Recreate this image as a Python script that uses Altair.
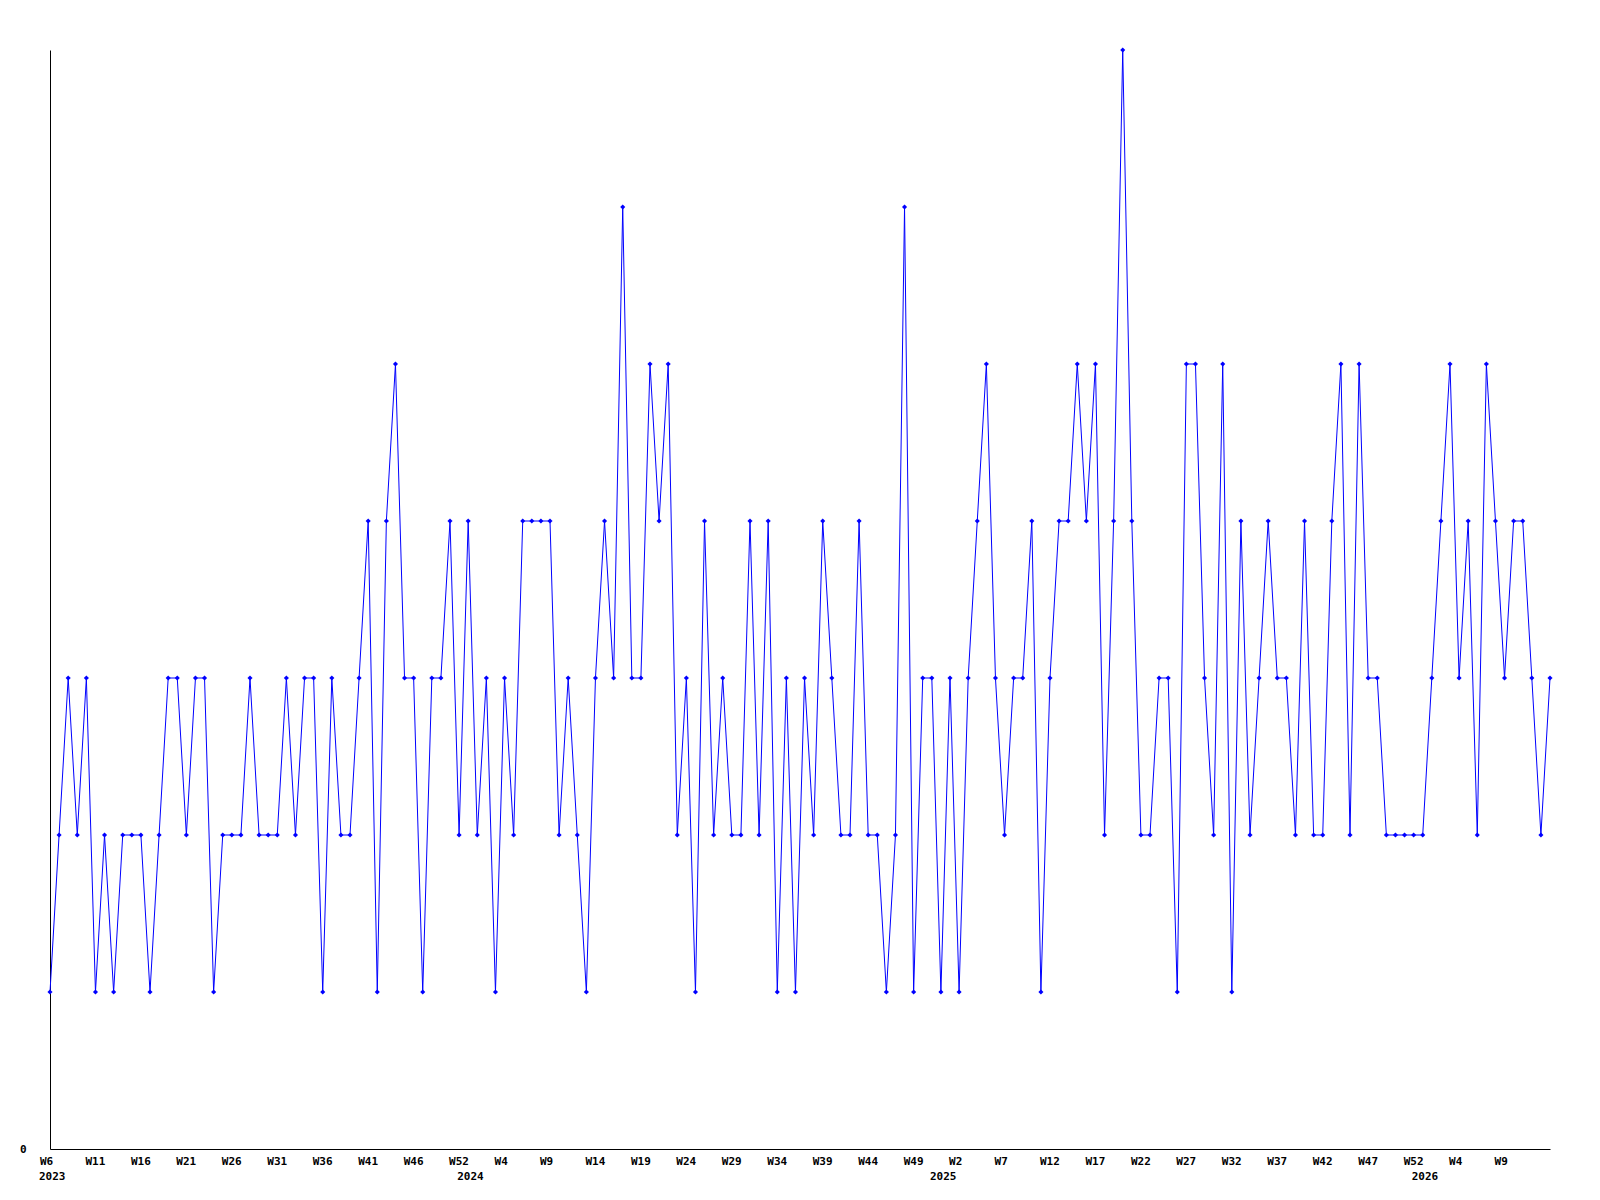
import altair as alt
import pandas as pd

# weekly counts, 2023 W6 .. 2026 W15
counts = [
    1, 2, 3, 2, 3, 1, 2, 1, 2, 2,
    2, 1, 2, 3, 3, 2, 3, 3, 1, 2,
    2, 2, 3, 2, 2, 2, 3, 2, 3, 3,
    1, 3, 2, 2, 3, 4, 1, 4, 5, 3,
    3, 1, 3, 3, 4, 2, 4, 2, 3, 1,
    3, 2, 4, 4, 4, 4, 2, 3, 2, 1,
    3, 4, 3, 6, 3, 3, 5, 4, 5, 2,
    3, 1, 4, 2, 3, 2, 2, 4, 2, 4,
    1, 3, 1, 3, 2, 4, 3, 2, 2, 4,
    2, 2, 1, 2, 6, 1, 3, 3, 1, 3,
    1, 3, 4, 5, 3, 2, 3, 3, 4, 1,
    3, 4, 4, 5, 4, 5, 2, 4, 7, 4,
    2, 2, 3, 3, 1, 5, 5, 3, 2, 5,
    1, 4, 2, 3, 4, 3, 3, 2, 4, 2,
    2, 4, 5, 2, 5, 3, 3, 2, 2, 2,
    2, 2, 3, 4, 5, 3, 4, 2, 5, 4,
    3, 4, 4, 3, 2, 3,
]

tick_labels = [
    "W6", "W11", "W16", "W21", "W26", "W31", "W36", "W41", "W46", "W52",
    "W4", "W9", "W14", "W19", "W24", "W29", "W34", "W39", "W44", "W49",
    "W2", "W7", "W12", "W17", "W22", "W27", "W32", "W37", "W42", "W47",
    "W52", "W4", "W9",
]
tick_step = 5

years = ["2023", "2024", "2025", "2026"]
year_index = [0, 46, 98, 151]

FONT = "DejaVu Sans Mono"

df = pd.DataFrame({"idx": list(range(len(counts))), "count": counts})
tdf = pd.DataFrame({"idx": [i * tick_step for i in range(len(tick_labels))], "lab": tick_labels})
ydf = pd.DataFrame({"idx": year_index, "year": years})

xscale = alt.Scale(domain=[0, len(counts) - 1], nice=False, zero=False)
yscale = alt.Scale(domain=[0, 7], nice=False)

x_axis = alt.Axis(
    values=[0],
    labels=False,
    title=None,
    grid=False,
    ticks=False,
    domainColor="black",
    domainWidth=1,
)
y_axis = alt.Axis(
    values=[0],
    format="d",
    title=None,
    grid=False,
    ticks=False,
    domainColor="black",
    domainWidth=1,
    labelFont=FONT,
    labelFontWeight="bold",
    labelFontSize=11,
    labelColor="black",
    labelPadding=24,
    labelBaseline="middle",
)

base = alt.Chart(df).encode(
    x=alt.X("idx:Q", scale=xscale, axis=x_axis),
    y=alt.Y("count:Q", scale=yscale, axis=y_axis),
)

line = base.mark_line(color="#0000FF", strokeWidth=1, clip=False)
pts = base.mark_point(shape="diamond", filled=True, size=26, color="#0000FF", opacity=1)

week_text = alt.Chart(tdf).mark_text(
    font=FONT, fontWeight="bold", fontSize=11, color="black",
    align="left", baseline="middle", dx=-10, dy=13,
).encode(
    x=alt.X("idx:Q", scale=xscale),
    y=alt.datum(0),
    text="lab:N",
)

year_text = alt.Chart(ydf).mark_text(
    font=FONT, fontWeight="bold", fontSize=11, color="black",
    align="left", baseline="middle", dx=-11, dy=28,
).encode(
    x=alt.X("idx:Q", scale=xscale),
    y=alt.datum(0),
    text="year:N",
)

chart = alt.layer(line, pts, week_text, year_text).properties(
    width=1500,
    height=1099,
    background="white",
    autosize=alt.AutoSizeParams(type="none"),
    padding={"left": 42, "top": 42, "right": 40, "bottom": 40},
).configure_view(stroke="transparent", strokeWidth=0)

chart.save("out.html", embed_options={"renderer": "svg", "actions": False})
